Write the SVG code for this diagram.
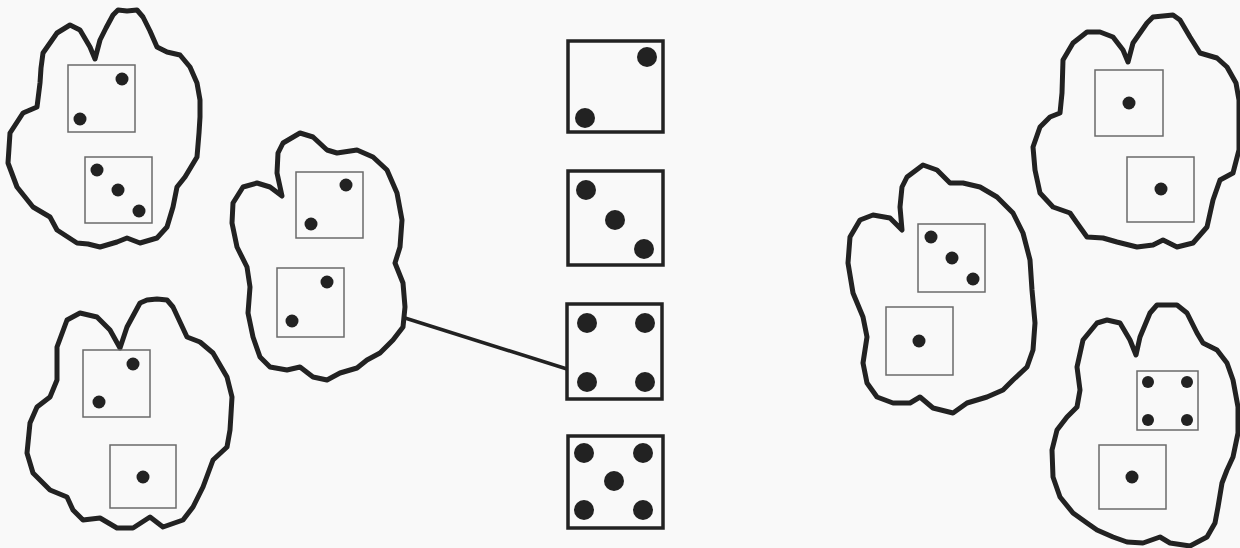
<svg xmlns="http://www.w3.org/2000/svg" width="1240" height="548" viewBox="0 0 1240 548">
<style>
.bg{fill:#f9f9f9}
.blob{fill:none;stroke:#222;stroke-width:5;stroke-linejoin:round;stroke-linecap:round}
.sd{fill:none;stroke:#6a6a6a;stroke-width:1.5}
.bd{fill:none;stroke:#222;stroke-width:3.5}
.pip{fill:#222}
.conn{stroke:#222;stroke-width:3.5;fill:none}
</style>
<rect class="bg" x="0" y="0" width="1240" height="548"/>

<g id="blob-top-left">
<polygon class="blob" points="95,59 100,40 106,28 113,15 118,10 127,11 137,10 143,17 150,31 157,47 167,52 180,55 190,67 197,83 200,100 200,117 199,133 197,157 185,177 177,187 175,197 173,207 167,227 157,238 140,243 127,238 117,242 100,247 88,244 77,243 57,230 50,217 33,207 17,187 8,163 9,148 10,133 23,113 37,107 40,83 41,68 43,53 57,33 70,25 80,30 90,47"/>
<rect class="sd" x="68" y="65" width="67" height="67"/>
<circle class="pip" cx="122" cy="79" r="6.5"/>
<circle class="pip" cx="80" cy="119" r="6.5"/>
<rect class="sd" x="85" y="157" width="67" height="66"/>
<circle class="pip" cx="97" cy="170" r="6.5"/>
<circle class="pip" cx="118" cy="190" r="6.5"/>
<circle class="pip" cx="139" cy="211" r="6.5"/>
</g>

<g id="blob-bottom-left">
<polygon class="blob" points="120,348 127,327 140,303 147,300 157,299 167,300 173,307 180,322 187,337 200,342 213,353 227,377 232,397 231,414 230,430 227,447 213,460 203,487 193,507 183,520 163,527 150,517 133,528 117,528 100,518 83,520 73,510 67,497 50,490 33,473 27,453 30,423 37,407 50,397 57,380 57,347 67,320 80,313 97,317 110,330"/>
<rect class="sd" x="83" y="350" width="67" height="67"/>
<circle class="pip" cx="133" cy="364" r="6.5"/>
<circle class="pip" cx="99" cy="402" r="6.5"/>
<rect class="sd" x="110" y="445" width="66" height="63"/>
<circle class="pip" cx="143" cy="477" r="6.5"/>
</g>

<g id="blob-middle-left">
<polygon class="blob" points="282,196 277,173 278,153 283,143 300,133 313,137 327,150 337,153 357,150 373,157 387,170 397,193 402,220 400,247 395,263 403,283 405,307 403,327 393,340 380,353 367,360 357,368 340,373 327,380 313,377 300,367 287,370 270,367 260,357 253,337 248,313 250,287 247,267 237,247 232,223 233,203 243,187 257,183 270,187"/>
<rect class="sd" x="296" y="172" width="67" height="66"/>
<circle class="pip" cx="346" cy="185" r="6.5"/>
<circle class="pip" cx="311" cy="224" r="6.5"/>
<rect class="sd" x="277" y="268" width="67" height="69"/>
<circle class="pip" cx="327" cy="282" r="6.5"/>
<circle class="pip" cx="292" cy="321" r="6.5"/>
</g>

<g id="die-two">
<rect class="bd" x="568" y="41" width="95" height="91"/>
<circle class="pip" cx="647" cy="57" r="10"/>
<circle class="pip" cx="585" cy="118" r="10"/>
</g>

<g id="die-three">
<rect class="bd" x="568" y="171" width="95" height="94"/>
<circle class="pip" cx="586" cy="190" r="10"/>
<circle class="pip" cx="615" cy="220" r="10"/>
<circle class="pip" cx="644" cy="249" r="10"/>
</g>

<g id="die-four">
<rect class="bd" x="567" y="304" width="95" height="95"/>
<circle class="pip" cx="587" cy="323" r="10"/>
<circle class="pip" cx="645" cy="323" r="10"/>
<circle class="pip" cx="587" cy="382" r="10"/>
<circle class="pip" cx="645" cy="382" r="10"/>
</g>

<g id="die-five">
<rect class="bd" x="568" y="436" width="95" height="92"/>
<circle class="pip" cx="584" cy="453" r="10"/>
<circle class="pip" cx="643" cy="453" r="10"/>
<circle class="pip" cx="614" cy="481" r="10"/>
<circle class="pip" cx="584" cy="510" r="10"/>
<circle class="pip" cx="643" cy="510" r="10"/>
</g>

<g id="blob-middle-right">
<polygon class="blob" points="902,230 900,207 902,187 907,177 923,165 937,170 950,183 963,183 980,187 997,197 1013,213 1023,233 1030,260 1032,290 1035,323 1033,350 1027,367 1013,380 1003,390 987,397 967,403 953,413 933,408 920,397 910,403 893,403 877,397 867,383 863,363 867,337 863,317 853,293 848,263 850,237 860,220 873,215 890,218"/>
<rect class="sd" x="918" y="224" width="67" height="68"/>
<circle class="pip" cx="931" cy="237" r="6.5"/>
<circle class="pip" cx="952" cy="258" r="6.5"/>
<circle class="pip" cx="973" cy="279" r="6.5"/>
<rect class="sd" x="886" y="307" width="67" height="68"/>
<circle class="pip" cx="919" cy="341" r="6.5"/>
</g>

<g id="blob-top-right">
<polygon class="blob" points="1128,62 1133,43 1147,23 1153,17 1173,15 1180,20 1190,37 1200,53 1217,58 1227,67 1236,83 1239,100 1239,125 1239,150 1233,173 1220,180 1213,200 1207,227 1193,243 1177,247 1163,240 1153,245 1137,247 1117,242 1103,238 1087,237 1077,223 1070,213 1053,207 1040,193 1035,170 1033,147 1040,127 1050,117 1060,113 1062,93 1063,60 1073,43 1087,32 1100,32 1113,37 1123,50"/>
<rect class="sd" x="1095" y="70" width="68" height="66"/>
<circle class="pip" cx="1129" cy="103" r="6.5"/>
<rect class="sd" x="1127" y="157" width="67" height="65"/>
<circle class="pip" cx="1161" cy="189" r="6.5"/>
</g>

<g id="blob-bottom-right">
<polygon class="blob" points="1136,355 1140,337 1150,313 1157,305 1177,305 1187,313 1197,333 1203,343 1217,350 1227,363 1233,380 1238,407 1238,433 1233,457 1227,470 1222,483 1218,507 1215,523 1207,537 1190,546 1170,543 1160,537 1143,543 1127,542 1113,537 1097,530 1087,523 1073,513 1060,497 1053,477 1052,450 1057,430 1067,417 1077,407 1080,390 1077,367 1083,340 1097,323 1107,320 1120,323 1130,340"/>
<rect class="sd" x="1137" y="371" width="61" height="59"/>
<circle class="pip" cx="1148" cy="382" r="6"/>
<circle class="pip" cx="1187" cy="382" r="6"/>
<circle class="pip" cx="1148" cy="420" r="6"/>
<circle class="pip" cx="1187" cy="420" r="6"/>
<rect class="sd" x="1099" y="445" width="67" height="64"/>
<circle class="pip" cx="1132" cy="477" r="6.5"/>
</g>

<g id="connectors">
<line class="conn" x1="405" y1="318" x2="567" y2="369"/>
</g>
</svg>
